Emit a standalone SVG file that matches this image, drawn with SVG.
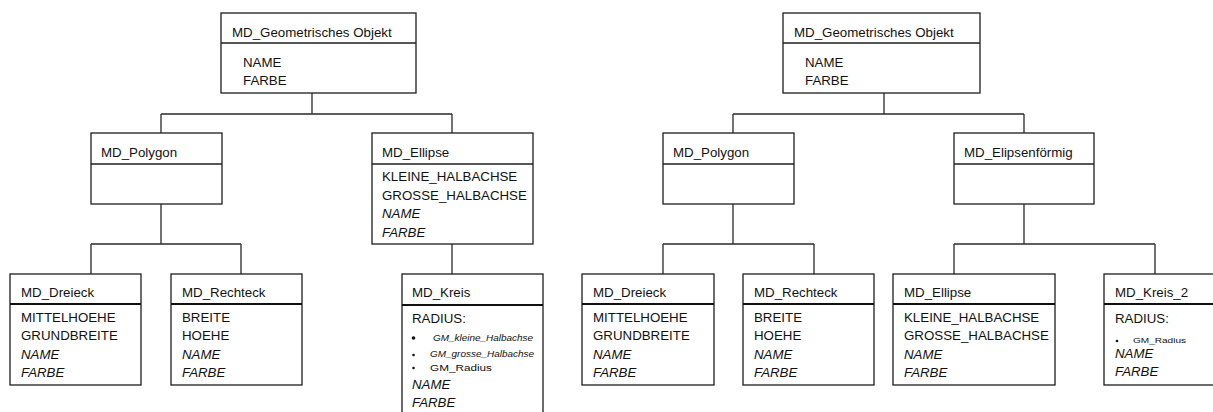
<svg xmlns="http://www.w3.org/2000/svg" width="1213" height="412" viewBox="0 0 1213 412">
  <style>
    .box { fill: #ffffff; stroke: #1e1e1e; stroke-width: 1.3; }
    .div { stroke: #1e1e1e; stroke-width: 1.5; }
    .div2 { stroke: #111111; stroke-width: 2; }
    .conn { fill: none; stroke: #2a2a2a; stroke-width: 1.3; }
    text { font-family: "Liberation Sans", Arial, sans-serif; font-size: 13.3px; fill: #111111; }
    .it { font-style: italic; }
    .sm { font-size: 8.5px; }
    .xs { font-size: 7.5px; }
    .dot { fill: #111111; }
  </style>

  <!-- connectors -->
  <g id="connectors">
    <!-- left tree -->
    <path class="conn" d="M312,93 V114 M161,114 H452 M161,114 V133 M452,114 V133"/>
    <path class="conn" d="M161,204 V244 M91,244 H241 M91,244 V274 M241,244 V274"/>
    <path class="conn" d="M452,244 V274"/>
    <!-- right tree -->
    <path class="conn" d="M884,93 V114 M733,114 H1024 M733,114 V133 M1024,114 V133"/>
    <path class="conn" d="M733,204 V244 M663,244 H814 M663,244 V274 M814,244 V274"/>
    <path class="conn" d="M1024,204 V244 M954,244 H1155 M954,244 V274 M1155,244 V274"/>
  </g>

  <!-- left tree -->
  <g id="geo-left">
    <rect class="box" x="221" y="13" width="195" height="80"/>
    <line class="div" x1="221" y1="43" x2="416" y2="43"/>
    <text x="232" y="37">MD_Geometrisches Objekt</text>
    <text x="243" y="67">NAME</text>
    <text x="243" y="85">FARBE</text>
  </g>

  <g id="polygon-left">
    <rect class="box" x="91" y="133" width="131" height="71"/>
    <line class="div" x1="91" y1="164" x2="222" y2="164"/>
    <text x="101" y="157">MD_Polygon</text>
  </g>

  <g id="ellipse-left">
    <rect class="box" x="372" y="133" width="161" height="111"/>
    <line class="div" x1="372" y1="164" x2="533" y2="164"/>
    <text x="382" y="157">MD_Ellipse</text>
    <text x="382" y="181">KLEINE_HALBACHSE</text>
    <text x="382" y="200">GROSSE_HALBACHSE</text>
    <text class="it" x="382" y="218">NAME</text>
    <text class="it" x="382" y="237">FARBE</text>
  </g>

  <g id="dreieck-left">
    <rect class="box" x="10" y="274" width="131" height="111"/>
    <line class="div2" x1="10" y1="304" x2="141" y2="304"/>
    <text x="21" y="297">MD_Dreieck</text>
    <text x="21" y="322">MITTELHOEHE</text>
    <text x="21" y="340">GRUNDBREITE</text>
    <text class="it" x="21" y="359">NAME</text>
    <text class="it" x="21" y="377">FARBE</text>
  </g>

  <g id="rechteck-left">
    <rect class="box" x="171" y="274" width="131" height="111"/>
    <line class="div2" x1="171" y1="304" x2="302" y2="304"/>
    <text x="182" y="297">MD_Rechteck</text>
    <text x="182" y="322">BREITE</text>
    <text x="182" y="340">HOEHE</text>
    <text class="it" x="182" y="359">NAME</text>
    <text class="it" x="182" y="377">FARBE</text>
  </g>

  <g id="kreis-left">
    <rect class="box" x="402" y="274" width="141" height="160"/>
    <line class="div2" x1="402" y1="305" x2="543" y2="305"/>
    <text x="412" y="297">MD_Kreis</text>
    <text x="412" y="323">RADIUS:</text>
    <circle class="dot" cx="413.5" cy="338" r="1.8"/>
    <text class="sm it" x="433" y="341" textLength="100" lengthAdjust="spacingAndGlyphs">GM_kleine_Halbachse</text>
    <circle class="dot" cx="413.5" cy="355" r="1.3"/>
    <text class="sm it" x="430" y="357" textLength="104" lengthAdjust="spacingAndGlyphs">GM_grosse_Halbachse</text>
    <circle class="dot" cx="413.5" cy="368" r="1.3"/>
    <text class="sm" x="430" y="371" textLength="62" lengthAdjust="spacingAndGlyphs">GM_Radius</text>
    <text class="it" x="412" y="389">NAME</text>
    <text class="it" x="412" y="407">FARBE</text>
  </g>

  <!-- right tree -->
  <g id="geo-right">
    <rect class="box" x="783" y="13" width="197" height="80"/>
    <line class="div" x1="783" y1="43" x2="980" y2="43"/>
    <text x="794" y="37">MD_Geometrisches Objekt</text>
    <text x="805" y="67">NAME</text>
    <text x="805" y="85">FARBE</text>
  </g>

  <g id="polygon-right">
    <rect class="box" x="663" y="133" width="131" height="71"/>
    <line class="div" x1="663" y1="164" x2="794" y2="164"/>
    <text x="673" y="157">MD_Polygon</text>
  </g>

  <g id="elipsenfoermig-right">
    <rect class="box" x="954" y="133" width="140" height="71"/>
    <line class="div" x1="954" y1="164" x2="1094" y2="164"/>
    <text x="964" y="157">MD_Elipsenförmig</text>
  </g>

  <g id="dreieck-right">
    <rect class="box" x="582" y="274" width="132" height="111"/>
    <line class="div2" x1="582" y1="304" x2="714" y2="304"/>
    <text x="593" y="297">MD_Dreieck</text>
    <text x="593" y="322">MITTELHOEHE</text>
    <text x="593" y="340">GRUNDBREITE</text>
    <text class="it" x="593" y="359">NAME</text>
    <text class="it" x="593" y="377">FARBE</text>
  </g>

  <g id="rechteck-right">
    <rect class="box" x="743" y="274" width="131" height="111"/>
    <line class="div2" x1="743" y1="304" x2="874" y2="304"/>
    <text x="754" y="297">MD_Rechteck</text>
    <text x="754" y="322">BREITE</text>
    <text x="754" y="340">HOEHE</text>
    <text class="it" x="754" y="359">NAME</text>
    <text class="it" x="754" y="377">FARBE</text>
  </g>

  <g id="ellipse-right">
    <rect class="box" x="893" y="274" width="162" height="111"/>
    <line class="div2" x1="893" y1="304" x2="1055" y2="304"/>
    <text x="904" y="297">MD_Ellipse</text>
    <text x="904" y="322">KLEINE_HALBACHSE</text>
    <text x="904" y="340">GROSSE_HALBACHSE</text>
    <text class="it" x="904" y="359">NAME</text>
    <text class="it" x="904" y="377">FARBE</text>
  </g>

  <g id="kreis2-right">
    <rect class="box" x="1104" y="274" width="140" height="111"/>
    <line class="div2" x1="1104" y1="304" x2="1244" y2="304"/>
    <text x="1115" y="297">MD_Kreis_2</text>
    <text x="1115" y="323">RADIUS:</text>
    <circle class="dot" cx="1117" cy="341" r="1.3"/>
    <text class="xs" x="1133" y="343" textLength="53" lengthAdjust="spacingAndGlyphs">GM_Radius</text>
    <text class="it" x="1115" y="358">NAME</text>
    <text class="it" x="1115" y="376">FARBE</text>
  </g>
</svg>
